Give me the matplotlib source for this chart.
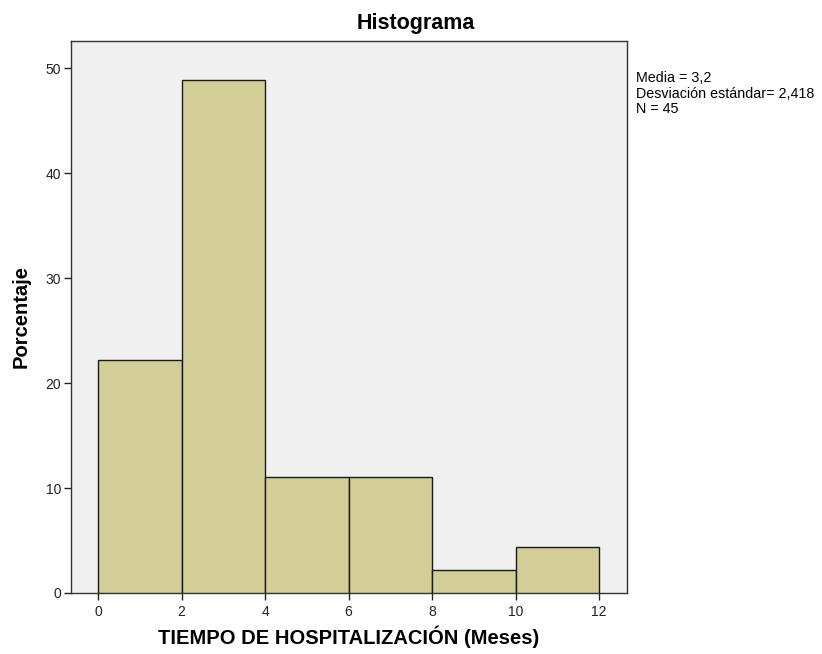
import matplotlib
matplotlib.use("Agg")
import matplotlib.pyplot as plt

bin_edges = [0, 2, 4, 6, 8, 10, 12]
percentages = [22.2, 48.9, 11.1, 11.1, 2.2, 4.4]
x_ticks = [0, 2, 4, 6, 8, 10, 12]
y_ticks = [0, 10, 20, 30, 40, 50]
stats_text = "Media = 3,2\nDesviación estándar= 2,418\nN = 45"

plt.rcParams['font.family'] = ['Liberation Sans', 'DejaVu Sans']

fig = plt.figure(figsize=(8.22, 6.54), dpi=100)
ax = fig.add_axes([71/822, 1-593/654, (627-71)/822, (593-41)/654])
ax.set_facecolor('#F0F0F0')

lefts = bin_edges[:-1]
widths = [bin_edges[i+1]-bin_edges[i] for i in range(len(lefts))]
ax.bar(lefts, percentages, width=widths, align='edge', color='#D3CE97',
       edgecolor='#1a1a1a', linewidth=1.0, zorder=3)

ax.set_xlim(-0.65, 12.67)
ax.set_ylim(0, 52.6)
ax.set_xticks(x_ticks)
ax.set_yticks(y_ticks)
ax.tick_params(axis='both', direction='out', length=5, width=1, labelsize=10, colors='#222222')
ax.tick_params(axis='y', pad=2)
ax.tick_params(axis='x', pad=4)
for s in ax.spines.values():
    s.set_color('#333333')
    s.set_linewidth(1)

fig.text(416/822, 1-23/654, 'Histograma', ha='center', va='center', fontsize=15.5, fontweight='bold')
fig.text(349/822, 1-637/654, 'TIEMPO DE HOSPITALIZACIÓN (Meses)', ha='center', va='center', fontsize=14.5, fontweight='bold')
fig.text(21/822, 1-316/654, 'Porcentaje', ha='center', va='center', rotation=90, fontsize=14.5, fontweight='bold')
fig.text(636/822, 1-71/654, stats_text, ha='left', va='top', fontsize=10.3, linespacing=1.14)

fig.savefig('out.png', dpi=100, facecolor='white')
